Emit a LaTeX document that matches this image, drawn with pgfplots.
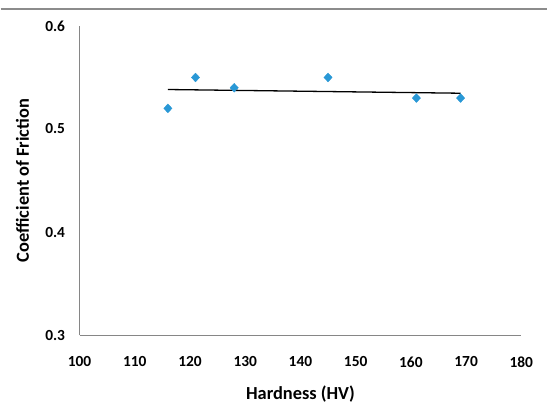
\documentclass[border=0pt]{standalone}
\usepackage{pgfplots}
\pgfplotsset{compat=1.18}
\usepackage{fontspec}
\setmainfont{Carlito}
\definecolor{ptblue}{RGB}{41,152,214}
\definecolor{axgray}{RGB}{134,134,134}
\begin{document}
\begin{tikzpicture}[x=1bp,y=1bp]
\fill[white] (0,0) rectangle (548,415);
\draw[black!45,line width=1.5bp] (0,406) -- (548,406);
\begin{axis}[
  at={(79bp,79bp)}, anchor=south west,
  scale only axis, width=443bp, height=310bp,
  xmin=100, xmax=180, ymin=0.3, ymax=0.6,
  xtick={100,110,...,180}, ytick={0.3,0.4,0.5,0.6},
  axis x line*=bottom, axis y line*=left,
  axis line style={axgray, line width=0.8bp},
  major tick length=0pt,
  /pgf/number format/assume math mode=true,
  yticklabel style={/pgf/number format/fixed,/pgf/number format/precision=1,/pgf/number format/fixed zerofill},
  scaled y ticks=false,
  tick label style={font=\fontsize{15.5}{18}\selectfont\bfseries},
  xticklabel style={yshift=-18bp},
  yticklabel style={xshift=-11bp},
  xlabel={Hardness (HV)}, ylabel={Coefficient of Friction},
  label style={font=\fontsize{18.5}{22}\selectfont\bfseries},
  xlabel style={at={(axis description cs:0.5,-0.19)}, anchor=center},
  ylabel style={at={(axis description cs:-0.129,0.5)}, anchor=center, rotate=0},
  clip=false,
]
\addplot[only marks, mark=diamond*, mark size=4.4bp, mark options={fill=ptblue, draw=ptblue, xscale=1.25}]
  coordinates {(116,0.52) (121,0.55) (128,0.54) (145,0.55) (161,0.53) (169,0.53)};
\addplot[black, line width=1.3bp] coordinates {(116,0.5383) (169,0.5347)};
\end{axis}
\end{tikzpicture}
\end{document}
